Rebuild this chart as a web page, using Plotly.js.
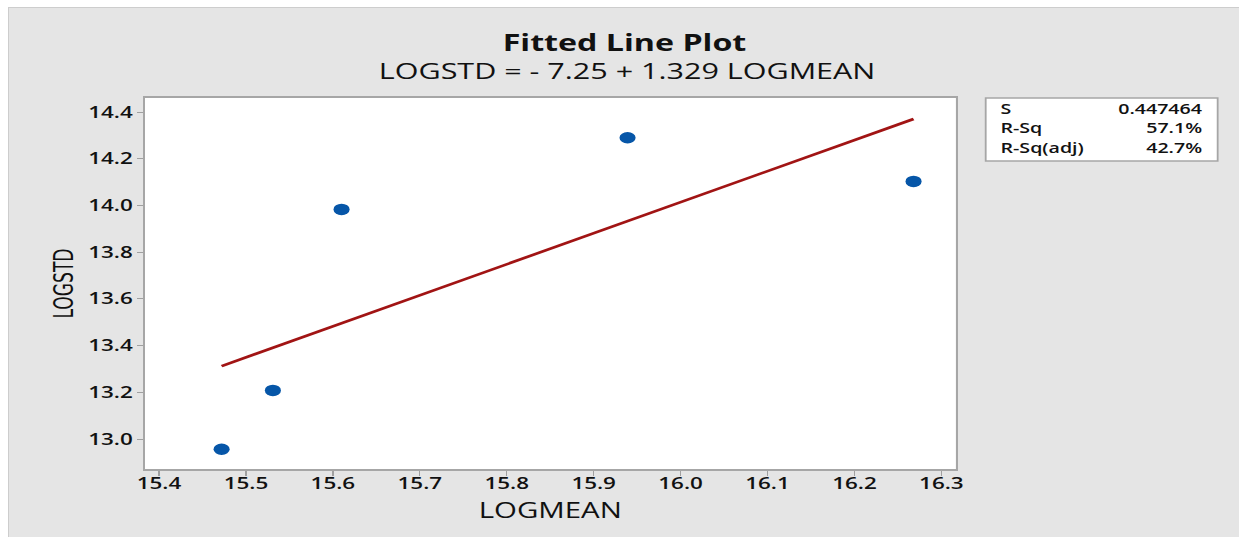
<!DOCTYPE html>
<html>
<head>
<meta charset="utf-8">
<script src="https://cdn.plot.ly/plotly-3.0.1.min.js"></script>
<style>
  html, body { margin: 0; padding: 0; background: #ffffff; }
  #frame {
    position: absolute; left: 8px; top: 7px;
    width: 1231px; height: 530px;
    background: #e5e5e5;
    border-left: 1px solid #cdcdcd; border-top: 1px solid #cdcdcd;
    overflow: hidden;
  }
  /* the figure is laid out narrow and widened horizontally */
  #chart { position: absolute; left: 0; top: 0; transform-origin: 0 0; }
</style>
</head>
<body>
<div id="frame"><div id="chart"></div></div>
<script>
// Observations
const logMean = [15.472, 15.531, 15.610, 15.939, 16.268];
const logStd  = [12.956, 13.208, 13.983, 14.290, 14.103];

// Regression coefficients as reported in the subtitle
const intercept = -7.25;
const slope = 1.329;

// Summary statistics
const statLabels = ['S', 'R-Sq', 'R-Sq(adj)'];
const statValues = ['0.447464', '57.1%', '42.7%'];

// Tick values
const xTicks = [15.4, 15.5, 15.6, 15.7, 15.8, 15.9, 16.0, 16.1, 16.2, 16.3];
const yTicks = [13.0, 13.2, 13.4, 13.6, 13.8, 14.0, 14.2, 14.4];

const xMin = Math.min(...logMean), xMax = Math.max(...logMean);
const fitX = [xMin, xMax];
const fitY = fitX.map(x => intercept + slope * x);

const baseFont = "'Open Sans', 'Noto Sans', 'DejaVu Sans', sans-serif";
const ink = '#111111';

// horizontal stretch applied to the rendered figure
const SX = 1.4;
const FW = 1231, H = 530;
const W = Math.round(FW / SX);
const sx = 1231 / W;
document.getElementById('chart').style.transform = 'scaleX(' + sx + ')';

// margins expressed in final (stretched) pixels
const Mf = { l: 136, r: 284, t: 90, b: 69 };
const M = { l: Mf.l / sx, r: Mf.r / sx, t: Mf.t, b: Mf.b, pad: 0 };
const pwf = FW - Mf.l - Mf.r, ph = H - Mf.t - Mf.b;
const px = v => (v - Mf.l) / pwf;
const py = v => (H - Mf.b - v) / ph;

const traces = [
  {
    x: fitX, y: fitY, mode: 'lines', type: 'scatter',
    line: { color: '#a11414', width: 2.6 },
    hoverinfo: 'skip', showlegend: false
  },
  {
    x: logMean, y: logStd, mode: 'markers', type: 'scatter',
    marker: { color: '#0656a8', size: 11.5, line: { width: 0 } },
    showlegend: false
  }
];

const annotations = [
  {
    text: 'LOGSTD = - 7.25 + 1.329 LOGMEAN',
    xref: 'paper', yref: 'paper', x: px(618), y: py(63),
    xanchor: 'center', yanchor: 'middle', showarrow: false,
    font: { family: baseFont, size: 21.8, color: ink }
  }
];
const rowY = [101, 120, 139];
statLabels.forEach((lab, i) => {
  annotations.push({
    text: lab, xref: 'paper', yref: 'paper', x: px(989), y: py(rowY[i]),
    xanchor: 'left', yanchor: 'middle', showarrow: false,
    font: { family: baseFont, size: 14, color: ink, weight: 600 }
  });
  annotations.push({
    text: statValues[i], xref: 'paper', yref: 'paper', x: px(1197), y: py(rowY[i]),
    xanchor: 'right', yanchor: 'middle', showarrow: false,
    font: { family: baseFont, size: 14, color: ink, weight: 600 }
  });
});

const layout = {
  width: W, height: H,
  paper_bgcolor: '#e5e5e5',
  plot_bgcolor: '#ffffff',
  margin: M,
  title: {
    text: '<b>Fitted Line Plot</b>',
    xref: 'container', x: 0.5, xanchor: 'center',
    yref: 'container', y: 1 - 35 / H, yanchor: 'middle',
    font: { family: baseFont, size: 23, color: ink }
  },
  xaxis: {
    range: [15.3837, 16.3165],
    tickvals: xTicks, ticktext: xTicks.map(v => v.toFixed(1)),
    ticks: 'outside', ticklen: 5, tickcolor: '#a0a0a0', tickwidth: 1,
    ticklabelstandoff: -6,
    showline: true, linecolor: '#a6a6a6', linewidth: 1.6, mirror: true,
    showgrid: false, zeroline: false,
    tickfont: { family: baseFont, size: 16, color: ink, weight: 600 },
    title: { text: 'LOGMEAN', standoff: 10,
             font: { family: baseFont, size: 21, color: ink } }
  },
  yaxis: {
    range: [12.8716, 14.46],
    tickvals: yTicks, ticktext: yTicks.map(v => v.toFixed(1)),
    ticks: 'outside', ticklen: 4, tickcolor: '#a0a0a0', tickwidth: 1,
    showline: true, linecolor: '#a6a6a6', linewidth: 1.4, mirror: true,
    showgrid: false, zeroline: false,
    tickfont: { family: baseFont, size: 16, color: ink, weight: 600 },
    title: { text: 'LOGSTD', standoff: 5,
             font: { family: "'Liberation Sans Narrow', 'DejaVu Sans Condensed', 'Roboto', sans-serif", size: 19, color: ink } }
  },
  shapes: [
    {
      type: 'rect', xref: 'paper', yref: 'paper',
      x0: px(977), x1: px(1209), y0: py(153), y1: py(90),
      fillcolor: '#ffffff', line: { color: '#a6a6a6', width: 1.3 }
    }
  ],
  annotations: annotations
};

Plotly.newPlot('chart', traces, layout, { displayModeBar: false, staticPlot: true });
</script>
</body>
</html>
